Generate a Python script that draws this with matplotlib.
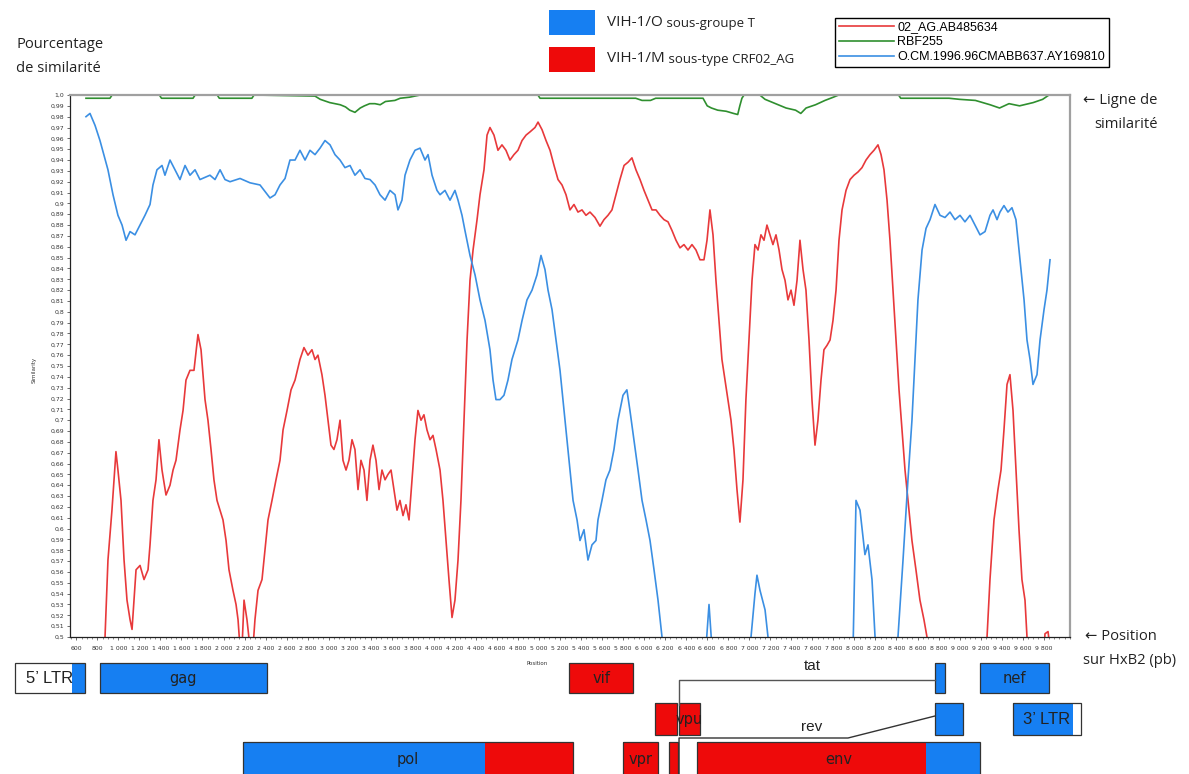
import matplotlib
matplotlib.use("Agg")
import matplotlib.pyplot as plt
from matplotlib.patches import Rectangle
from matplotlib.text import Annotation
from matplotlib.ticker import MultipleLocator, FixedLocator, FuncFormatter

# ---------------- data: similarity curves (position bp, similarity) ----------------
blue_pos = [692, 730, 778, 825, 901, 949, 996, 1035, 1073, 1111, 1158, 1206, 1253, 1301, 1329, 1367,
            1415, 1443, 1491, 1539, 1586, 1634, 1681, 1729, 1776, 1871, 1919, 1967, 2014, 2062, 2157,
            2252, 2347, 2394, 2442, 2490, 2537, 2585, 2632, 2680, 2727, 2775, 2822, 2870, 2918, 2965,
            3013, 3060, 3108, 3155, 3203, 3250, 3298, 3345, 3393, 3441, 3488, 3536, 3583, 3631, 3659,
            3697, 3726, 3773, 3821, 3869, 3916, 3945, 3983, 4030, 4059, 4106, 4154, 4201, 4230, 4268,
            4296, 4344, 4392, 4439, 4487, 4534, 4563, 4591, 4629, 4667, 4705, 4743, 4800, 4839, 4886,
            4934, 4981, 5019, 5057, 5086, 5124, 5162, 5200, 5228, 5266, 5295, 5324, 5362, 5390, 5428,
            5466, 5504, 5542, 5561, 5599, 5637, 5675, 5713, 5751, 5799, 5836, 5865, 5903, 5942, 5980,
            6018, 6056, 6094, 6132, 6170, 6208, 6531, 6588, 6617, 6645, 6683, 6959, 7007, 7054, 7073,
            7102, 7150, 7178, 7216, 7958, 7989, 8015, 8053, 8100, 8129, 8167, 8196, 8224, 8386, 8414,
            8462, 8509, 8547, 8576, 8604, 8643, 8681, 8719, 8766, 8814, 8861, 8909, 8956, 9004, 9051,
            9099, 9147, 9194, 9242, 9289, 9318, 9356, 9384, 9422, 9460, 9498, 9536, 9575, 9613, 9641,
            9670, 9698, 9736, 9765, 9803, 9831, 9860]
blue_sim = [0.980, 0.983, 0.972, 0.958, 0.931, 0.908, 0.889, 0.880, 0.866, 0.874, 0.871, 0.880, 0.889,
            0.899, 0.917, 0.931, 0.935, 0.926, 0.940, 0.931, 0.922, 0.935, 0.926, 0.931, 0.922, 0.926,
            0.922, 0.931, 0.922, 0.920, 0.923, 0.919, 0.917, 0.911, 0.905, 0.908, 0.917, 0.923, 0.940,
            0.940, 0.949, 0.940, 0.949, 0.945, 0.951, 0.958, 0.954, 0.945, 0.940, 0.933, 0.935, 0.926,
            0.931, 0.923, 0.922, 0.917, 0.908, 0.903, 0.912, 0.908, 0.894, 0.903, 0.926, 0.940, 0.949,
            0.951, 0.940, 0.945, 0.926, 0.912, 0.908, 0.912, 0.903, 0.912, 0.903, 0.889, 0.875, 0.852,
            0.834, 0.811, 0.792, 0.765, 0.737, 0.719, 0.719, 0.723, 0.737, 0.756, 0.774, 0.792, 0.811,
            0.820, 0.834, 0.852, 0.839, 0.820, 0.802, 0.774, 0.746, 0.719, 0.682, 0.654, 0.626, 0.608,
            0.589, 0.599, 0.571, 0.585, 0.589, 0.608, 0.626, 0.645, 0.654, 0.673, 0.700, 0.723, 0.728,
            0.709, 0.682, 0.654, 0.626, 0.608, 0.589, 0.562, 0.534, 0.500, 0.470, 0.470, 0.490, 0.530,
            0.490, 0.470, 0.470, 0.490, 0.540, 0.557, 0.543, 0.525, 0.500, 0.470, 0.470, 0.500, 0.626,
            0.617, 0.576, 0.585, 0.553, 0.500, 0.470, 0.470, 0.500, 0.571, 0.645, 0.700, 0.756, 0.811,
            0.857, 0.877, 0.885, 0.899, 0.889, 0.887, 0.892, 0.885, 0.889, 0.883, 0.889, 0.880, 0.871,
            0.874, 0.889, 0.894, 0.885, 0.892, 0.898, 0.892, 0.896, 0.885, 0.848, 0.811, 0.774, 0.756,
            0.733, 0.742, 0.774, 0.802, 0.820, 0.848]

red_pos = [854, 873, 901, 939, 977, 996, 1025, 1054, 1082, 1111, 1130, 1149, 1168, 1206, 1244, 1282,
           1301, 1329, 1358, 1386, 1415, 1453, 1491, 1520, 1548, 1586, 1615, 1643, 1681, 1719, 1757,
           1786, 1824, 1852, 1881, 1909, 1938, 1967, 1995, 2024, 2052, 2090, 2119, 2138, 2157, 2176,
           2195, 2223, 2252, 2280, 2299, 2328, 2366, 2385, 2423, 2461, 2499, 2537, 2566, 2604, 2642,
           2680, 2727, 2765, 2803, 2841, 2870, 2898, 2936, 2965, 2993, 3022, 3050, 3079, 3108, 3136,
           3165, 3193, 3222, 3250, 3279, 3307, 3336, 3364, 3393, 3421, 3450, 3479, 3507, 3536, 3564,
           3593, 3621, 3650, 3678, 3707, 3735, 3764, 3792, 3821, 3849, 3878, 3906, 3935, 3964, 3992,
           4021, 4059, 4087, 4116, 4144, 4173, 4201, 4230, 4258, 4287, 4316, 4344, 4373, 4411, 4439,
           4477, 4506, 4534, 4572, 4610, 4648, 4686, 4724, 4762, 4800, 4839, 4877, 4915, 4962, 4991,
           5029, 5067, 5105, 5143, 5181, 5219, 5257, 5295, 5333, 5371, 5409, 5447, 5485, 5533, 5580,
           5618, 5656, 5694, 5732, 5770, 5809, 5847, 5884, 5922, 5961, 5999, 6037, 6075, 6113, 6151,
           6189, 6227, 6265, 6303, 6341, 6379, 6417, 6455, 6493, 6531, 6569, 6598, 6626, 6655, 6683,
           6712, 6740, 6769, 6797, 6826, 6854, 6883, 6911, 6940, 6968, 6997, 7026, 7054, 7083, 7111,
           7140, 7168, 7197, 7225, 7254, 7283, 7311, 7340, 7368, 7397, 7425, 7454, 7482, 7511, 7539,
           7568, 7596, 7625, 7653, 7682, 7710, 7739, 7768, 7796, 7825, 7853, 7882, 7920, 7958, 7996,
           8034, 8072, 8110, 8148, 8186, 8224, 8253, 8281, 8310, 8338, 8367, 8395, 8424, 8452, 8481,
           8509, 8547, 8585, 8623, 8661, 8690, 8719, 9232, 9261, 9289, 9327, 9365, 9394, 9422, 9451,
           9479, 9508, 9536, 9565, 9593, 9622, 9641, 9670, 9793, 9812, 9841, 9860]
red_sim = [0.470, 0.500, 0.571, 0.617, 0.671, 0.654, 0.626, 0.571, 0.534, 0.516, 0.507, 0.534, 0.562,
           0.566, 0.553, 0.562, 0.585, 0.626, 0.645, 0.682, 0.654, 0.631, 0.640, 0.654, 0.663, 0.691,
           0.709, 0.737, 0.746, 0.746, 0.779, 0.765, 0.719, 0.700, 0.673, 0.645, 0.626, 0.617, 0.608,
           0.589, 0.562, 0.543, 0.530, 0.516, 0.490, 0.490, 0.534, 0.516, 0.490, 0.490, 0.516, 0.543,
           0.553, 0.571, 0.608, 0.626, 0.645, 0.663, 0.691, 0.709, 0.728, 0.737, 0.756, 0.767, 0.760,
           0.765, 0.756, 0.760, 0.742, 0.723, 0.700, 0.677, 0.673, 0.682, 0.700, 0.663, 0.654, 0.663,
           0.682, 0.673, 0.636, 0.663, 0.654, 0.626, 0.663, 0.677, 0.663, 0.636, 0.654, 0.645, 0.650,
           0.654, 0.636, 0.617, 0.626, 0.612, 0.622, 0.608, 0.645, 0.682, 0.709, 0.700, 0.705, 0.691,
           0.682, 0.686, 0.673, 0.654, 0.626, 0.589, 0.553, 0.518, 0.534, 0.571, 0.626, 0.700, 0.774,
           0.829, 0.857, 0.885, 0.908, 0.931, 0.963, 0.970, 0.963, 0.949, 0.954, 0.949, 0.940, 0.945,
           0.949, 0.958, 0.963, 0.966, 0.970, 0.975, 0.968, 0.958, 0.949, 0.935, 0.922, 0.917, 0.908,
           0.894, 0.899, 0.892, 0.894, 0.889, 0.892, 0.887, 0.879, 0.885, 0.889, 0.894, 0.908, 0.922,
           0.935, 0.938, 0.942, 0.931, 0.922, 0.912, 0.903, 0.894, 0.894, 0.889, 0.885, 0.883, 0.875,
           0.866, 0.859, 0.862, 0.857, 0.862, 0.857, 0.848, 0.848, 0.866, 0.894, 0.871, 0.829, 0.792,
           0.756, 0.737, 0.719, 0.700, 0.673, 0.636, 0.606, 0.645, 0.719, 0.774, 0.829, 0.862, 0.857,
           0.871, 0.866, 0.880, 0.871, 0.862, 0.871, 0.857, 0.839, 0.829, 0.811, 0.820, 0.806, 0.829,
           0.866, 0.839, 0.820, 0.774, 0.719, 0.677, 0.700, 0.737, 0.765, 0.769, 0.774, 0.792, 0.820,
           0.866, 0.894, 0.912, 0.922, 0.926, 0.929, 0.933, 0.940, 0.945, 0.949, 0.954, 0.945, 0.931,
           0.903, 0.866, 0.820, 0.774, 0.728, 0.691, 0.654, 0.626, 0.589, 0.562, 0.534, 0.516, 0.500,
           0.470, 0.470, 0.500, 0.553, 0.608, 0.636, 0.654, 0.691, 0.733, 0.742, 0.709, 0.654, 0.599,
           0.553, 0.534, 0.500, 0.470, 0.470, 0.503, 0.505, 0.490]

green_pos = [692, 920, 940, 1390, 1410, 1710, 1730, 1940, 1960, 2270, 2290, 2870, 2920, 3010, 3060,
             3110, 3160, 3200, 3250, 3300, 3340, 3390, 3440, 3490, 3540, 3630, 3680, 3770, 3870, 4990,
             5010, 5920, 5980, 6060, 6110, 6560, 6600, 6640, 6700, 6780, 6850, 6890, 6910, 6930, 6950,
             7100, 7150, 7250, 7350, 7440, 7490, 7540, 7630, 7720, 7800, 7850, 8420, 8440, 8900, 9000,
             9150, 9290, 9380, 9470, 9570, 9700, 9790, 9850]
green_sim = [0.997, 0.997, 1.0, 1.0, 0.997, 0.997, 1.0, 1.0, 0.997, 0.997, 1.0, 0.999, 0.996, 0.993,
             0.992, 0.991, 0.989, 0.986, 0.984, 0.988, 0.990, 0.992, 0.992, 0.991, 0.994, 0.995, 0.997,
             0.998, 1.0, 1.0, 0.997, 0.997, 0.995, 0.995, 0.997, 0.997, 0.990, 0.988, 0.986, 0.985,
             0.983, 0.982, 0.990, 0.997, 1.0, 1.0, 0.996, 0.992, 0.988, 0.986, 0.983, 0.988, 0.991,
             0.995, 0.998, 1.0, 1.0, 0.997, 0.997, 0.996, 0.995, 0.991, 0.988, 0.992, 0.990, 0.993,
             0.996, 1.0]

series_names = ["02_AG.AB485634", "RBF255", "O.CM.1996.96CMABB637.AY169810"]
x_ticks = list(range(600, 9801, 200))

# ---------------- data: genome map (HxB2 bp) ----------------
box_label = ["5’ LTR", "gag", "vif", "", "nef", "", "vpu", "", "3’ LTR", "pol", "vpr", "", "env"]
box_start = [17, 825, 5286, 8766, 9194, 6103, 6332, 8766, 9508, 2185, 5799, 6236, 6503]
box_end = [683, 2413, 5894, 8861, 9850, 6313, 6531, 9032, 10155, 5324, 6132, 6322, 9194]
box_row = [1, 1, 1, 1, 1, 2, 2, 2, 2, 3, 3, 3, 3]
box_color_a = ["w", "b", "r", "b", "b", "r", "r", "b", "b", "b", "r", "r", "r"]
box_split = [559, None, None, None, None, None, None, None, 10079, 4487, None, None, 8681]
box_color_b = ["b", None, None, None, None, None, None, None, "w", "r", None, None, "b"]

tat_path_bp = [6332, 6332, 8766]
rev_path_bp = [6332, 6332, 7939, 8766]
splice_labels = ["tat", "rev"]
splice_label_bp = [7597, 7597]

# ---------------- style ----------------
RED = "#e8393b"
BLUE = "#3b8fe3"
GREEN = "#2f8f2f"
FILL = {"b": "#167ff2", "r": "#ee0a0a", "w": "white"}
SANS = ["Open Sans", "DejaVu Sans"]
ARIAL = ["Liberation Sans", "DejaVu Sans"]
TXT = "#222222"

W, H = 1189, 774
fig = plt.figure(figsize=(W / 100, H / 100), dpi=100)
fig.patch.set_facecolor("white")


def fx(px):
    return px / W


def fy(py):
    return 1 - py / H


XL = (540, 10050)
L_PX, R_PX, T_PX, B_PX = 70, 1070, 95, 637
ax = fig.add_axes([fx(L_PX), fy(B_PX), fx(R_PX) - fx(L_PX), fy(T_PX) - fy(B_PX)])
l_red, = ax.plot(red_pos, red_sim, color=RED, lw=1.2)
l_green, = ax.plot(green_pos, green_sim, color=GREEN, lw=1.2)
l_blue, = ax.plot(blue_pos, blue_sim, color=BLUE, lw=1.2)
ax.set_xlim(*XL)
ax.set_ylim(0.5, 1.0)

ax.yaxis.set_major_locator(MultipleLocator(0.01))


def yfmt(v, pos):
    s = f"{v:.2f}".rstrip("0")
    if s.endswith("."):
        s += "0"
    return s.replace(".", ",")


ax.yaxis.set_major_formatter(FuncFormatter(yfmt))
ax.xaxis.set_major_locator(FixedLocator(x_ticks))
ax.xaxis.set_minor_locator(MultipleLocator(50))
ax.xaxis.set_major_formatter(FuncFormatter(lambda v, p: f"{int(round(v)):,}".replace(",", " ")))
ax.tick_params(axis="both", which="major", labelsize=4.4, length=2.5, width=0.5, pad=1.5,
               colors="#333333")
ax.tick_params(axis="x", which="minor", length=1.5, width=0.4, colors="#333333")
ax.tick_params(axis="x", pad=4)
for s in ("top", "right"):
    ax.spines[s].set_color("#a0a0a0")
    ax.spines[s].set_linewidth(1.6)
for s in ("left", "bottom"):
    ax.spines[s].set_color("#222222")
    ax.spines[s].set_linewidth(0.9)
ax.set_ylabel("Similarity", fontsize=4, color="#333333")
ax.set_xlabel("Position", fontsize=4, color="#333333")
ax.yaxis.set_label_coords((37 - L_PX) / (R_PX - L_PX), (B_PX - 370) / (B_PX - T_PX))
ax.xaxis.set_label_coords((537 - L_PX) / (R_PX - L_PX), -(661 - B_PX) / (B_PX - T_PX))

leg = ax.legend([l_red, l_green, l_blue], series_names, loc="upper left",
                bbox_to_anchor=(fx(835), fy(18)), bbox_transform=fig.transFigure,
                fancybox=False, edgecolor="black", framealpha=1, borderaxespad=0,
                prop={"family": ARIAL, "size": 9.0},
                handlelength=4.4, handletextpad=0.3, labelspacing=0.22, borderpad=0.28)
leg.get_frame().set_linewidth(1.0)

# ---------------- genome map ----------------
span = (XL[1] - XL[0]) * W / (R_PX - L_PX)
g_left = XL[0] - L_PX / W * span
gx = fig.add_axes([0, 0, 1, 1 - 655 / H])
gx.set_xlim(g_left, g_left + span)
gx.set_ylim(774, 655)
gx.axis("off")

ROW_Y = {1: (663, 693), 2: (703, 735), 3: (742, 776)}
for lab, a, b, row, ca, sp, cb in zip(box_label, box_start, box_end, box_row, box_color_a,
                                      box_split, box_color_b):
    y0, y1 = ROW_Y[row]
    if sp is None:
        gx.add_patch(Rectangle((a, y0), b - a, y1 - y0, facecolor=FILL[ca], edgecolor="none"))
    else:
        gx.add_patch(Rectangle((a, y0), sp - a, y1 - y0, facecolor=FILL[ca], edgecolor="none"))
        gx.add_patch(Rectangle((sp, y0), b - sp, y1 - y0, facecolor=FILL[cb], edgecolor="none"))
    gx.add_patch(Rectangle((a, y0), b - a, y1 - y0, facecolor="none", edgecolor="#333333",
                           lw=0.9))
    if lab:
        if "LTR" in lab:
            gx.text((a + b) / 2, (y0 + y1) / 2 + 1, lab, ha="center", va="center", fontsize=12,
                    family=ARIAL, color=TXT)
        else:
            gx.text((a + b) / 2, (y0 + y1) / 2 + 1, lab, ha="center", va="center", fontsize=10.5,
                    family="DejaVu Sans", color=TXT)

gx.plot(tat_path_bp, [705, 680, 680], color="#555555", lw=1.0)
gx.plot(rev_path_bp, [776, 738, 738, 716], color="#333333", lw=1.0)
for lab, xb, yp in zip(splice_labels, splice_label_bp, [666, 727]):
    gx.text(xb, yp, lab, fontsize=11, ha="center", va="center", family=ARIAL, color=TXT)

# ---------------- header / annotations ----------------
fig.patches.append(Rectangle((fx(549), fy(35)), fx(595) - fx(549), fy(10) - fy(35),
                             transform=fig.transFigure, facecolor=FILL["b"], edgecolor="none"))
fig.patches.append(Rectangle((fx(549), fy(72)), fx(595) - fx(549), fy(47) - fy(72),
                             transform=fig.transFigure, facecolor=FILL["r"], edgecolor="none"))
t1 = fig.text(fx(607), fy(23), "VIH-1/O", fontsize=11, family=SANS, va="center", ha="left",
              color=TXT)
fig.add_artist(Annotation(" sous-groupe T", xy=(1, 0), xycoords=t1, va="bottom", ha="left",
                          fontsize=9.5, family=SANS, color=TXT))
t2 = fig.text(fx(607), fy(59), "VIH-1/M", fontsize=11, family=SANS, va="center", ha="left",
              color=TXT)
fig.add_artist(Annotation(" sous-type CRF02_AG", xy=(1, 0), xycoords=t2, va="bottom", ha="left",
                          fontsize=9.5, family=SANS, color=TXT))

for xp, yp, s in [(16, 45, "Pourcentage"), (16, 68, "de similarité"),
                  (1083, 100, "← Ligne de"), (1094, 124, "similarité"),
                  (1085, 636, "← Position"), (1083, 660, "sur HxB2 (pb)")]:
    fig.text(fx(xp), fy(yp), s, fontsize=10.6, family=SANS, va="center", ha="left", color=TXT)

fig.savefig("out.png", dpi=100, facecolor="white")
